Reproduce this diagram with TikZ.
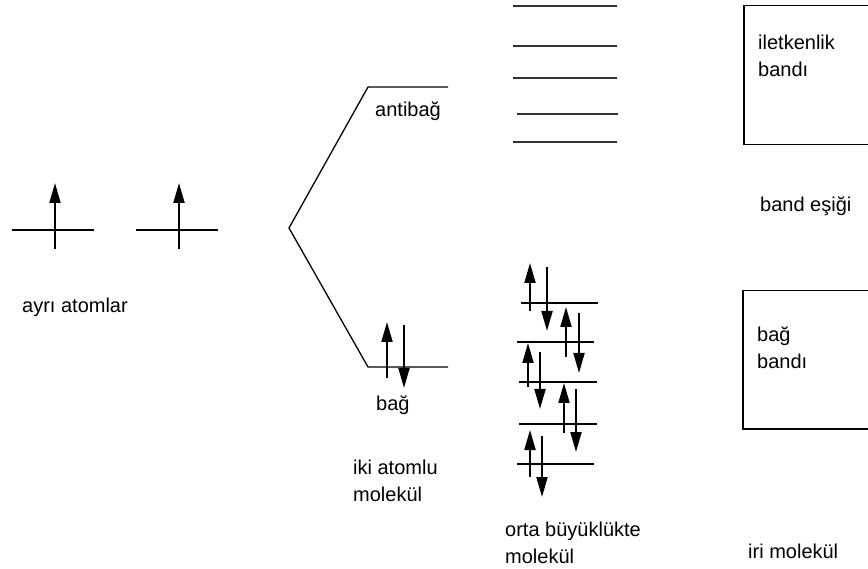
\documentclass[tikz,border=0pt]{standalone}
\usepackage{fontspec}
\setmainfont{Liberation Sans}
\usetikzlibrary{arrows.meta}
\begin{document}
\begin{tikzpicture}[x=1pt,y=-1pt,
  lvl/.style={line width=1.3pt},
  mlvl/.style={line width=2pt},
  band/.style={line width=2pt, draw=black!80},
  elec/.style={line width=2pt,-{Triangle[length=20pt,width=11pt]}},
  lbl/.style={anchor=base west, inner sep=0pt, font=\fontsize{20}{27}\selectfont, align=left},
  box/.style={line width=1.5pt}]
\useasboundingbox (0,0) rectangle (868,569);
\clip (0,0) rectangle (868,569);
% separate atoms
\coordinate (a1l) at (12,230); \coordinate (a1r) at (94,230);
\coordinate (a2l) at (136,230); \coordinate (a2r) at (218,230);
\draw[lvl] (a1l) -- (a1r);
\draw[lvl] (a2l) -- (a2r);
\coordinate (e1s) at (55,249); \coordinate (e1e) at (55,183);
\coordinate (e2s) at (179,249); \coordinate (e2e) at (179,183);
\draw[elec] (e1s) -- (e1e);
\draw[elec] (e2s) -- (e2e);
\node[lbl] (t1) at (22,313) {ayrı atomlar};
% diatomic molecule
\coordinate (ab1) at (368,87); \coordinate (ab2) at (448,87);
\coordinate (ap) at (289,228);
\coordinate (b1) at (368,367); \coordinate (b2) at (448,367);
\draw[lvl] (ab2) -- (ab1) -- (ap) -- (b1) -- (b2);
\node[lbl] (t2) at (375,117) {antibağ};
\coordinate (du1) at (387,378); \coordinate (du2) at (387,322);
\coordinate (dd1) at (404,325); \coordinate (dd2) at (404,388);
\draw[elec] (du1) -- (du2);
\draw[elec] (dd1) -- (dd2);
\node[lbl] (t3) at (376,410) {bağ};
\node[lbl] (t4) at (353,501) {iki atomlu\\molekül};
% medium molecule: upper levels
\foreach \y/\xa/\xb [count=\i] in {6/513/617,46/513/617,78/513/617,114/517/618,142/513/617}{
  \coordinate (ul\i a) at (\xa,\y); \coordinate (ul\i b) at (\xb,\y);
  \draw[band] (ul\i a) -- (ul\i b);
}
% medium molecule: lower levels
\foreach \y/\xa/\xb [count=\i] in {303/521/598,342/517/594,382/519/597,424/519/597,464/517/594}{
  \coordinate (ll\i a) at (\xa,\y); \coordinate (ll\i b) at (\xb,\y);
  \draw[mlvl] (ll\i a) -- (ll\i b);
}
\foreach \x/\ya/\yb [count=\i] in {530/311/263,566/357/307,528/387/343,564/433/383,530/477/430}{
  \coordinate (us\i) at (\x,\ya); \coordinate (ue\i) at (\x,\yb);
  \draw[elec] (us\i) -- (ue\i);
}
\foreach \x/\ya/\yb [count=\i] in {547/267/331,579/313/373,540/352/409,576/389/452,542/436/497}{
  \coordinate (ds\i) at (\x,\ya); \coordinate (de\i) at (\x,\yb);
  \draw[elec] (ds\i) -- (de\i);
}
\node[lbl] (t5) at (505,563) {orta büyüklükte\\molekül};
% large molecule
\node[box, draw, minimum width=140pt, minimum height=139pt, anchor=north west] (cb) at (743,5) {};
\node[lbl] (t6) at (758,77) {iletkenlik\\bandı};
\node[lbl] (t7) at (760,212) {band eşiği};
\node[box, draw, minimum width=140pt, minimum height=138pt, anchor=north west] (bb) at (742,290) {};
\node[lbl] (t8) at (757,369) {bağ\\bandı};
\node[lbl] (t9) at (748,558) {iri molekül};
\end{tikzpicture}
\end{document}
